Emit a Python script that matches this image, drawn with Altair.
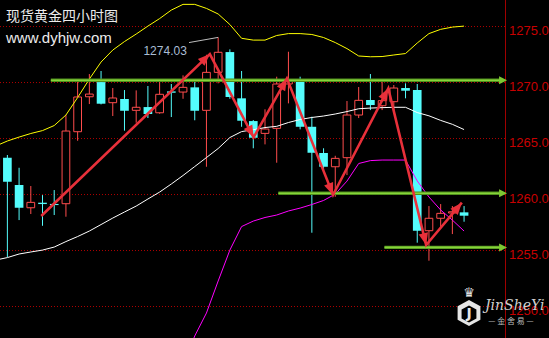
import math
import altair as alt
import pandas as pd

# ---------------- data ----------------
idx = list(range(-1, 40))
opens = [1261.74, 1263.29, 1260.85, 1258.82, 1259.27, 1259.15, 1259.18, 1265.61, 1268.73, 1270.04,
         1268.20, 1268.53, 1267.52, 1267.81, 1267.30, 1269.21, 1269.15, 1269.57, 1267.52, 1270.91,
         1272.72, 1268.59, 1266.56, 1265.46, 1265.91, 1269.87, 1270.16, 1266.05, 1263.71, 1262.48,
         1263.29, 1267.10, 1268.44, 1267.93, 1268.29, 1269.51, 1269.33, 1256.77, 1257.88, 1258.35,
         1258.41]
highs = [1263.30, 1263.53, 1262.39, 1260.76, 1259.95, 1260.40, 1267.10, 1270.31, 1270.76, 1271.03,
         1269.51, 1269.33, 1269.30, 1269.69, 1270.13, 1269.87, 1270.64, 1270.29, 1272.48, 1274.03,
         1272.96, 1271.03, 1266.65, 1267.61, 1270.52, 1272.75, 1270.52, 1266.95, 1264.13, 1263.46,
         1268.35, 1269.60, 1270.76, 1270.07, 1269.78, 1269.93, 1269.87, 1258.97, 1259.15, 1258.97,
         1258.97]
lows = [1261.70, 1254.42, 1257.72, 1258.26, 1257.21, 1258.17, 1258.02, 1264.80, 1268.08, 1268.05,
        1267.01, 1265.70, 1266.41, 1266.83, 1267.21, 1266.92, 1268.55, 1266.63, 1262.48, 1269.93,
        1268.55, 1266.05, 1264.13, 1264.48, 1262.84, 1268.14, 1265.82, 1256.59, 1262.19, 1259.80,
        1261.74, 1266.83, 1267.54, 1267.54, 1267.54, 1268.59, 1255.70, 1254.09, 1257.12, 1256.47,
        1257.57]
closes = [1263.26, 1261.14, 1258.82, 1259.30, 1259.15, 1259.06, 1265.67, 1268.71, 1268.97, 1268.11,
          1268.62, 1267.48, 1267.79, 1267.19, 1268.95, 1269.09, 1269.57, 1267.48, 1270.91, 1272.70,
          1268.71, 1266.59, 1265.07, 1265.85, 1269.87, 1270.16, 1266.05, 1263.73, 1262.48, 1263.23,
          1267.10, 1268.41, 1267.99, 1268.38, 1269.51, 1269.27, 1256.77, 1257.88, 1258.32, 1258.46,
          1258.11]

band_idx = list(range(-1, 40))
upper = [1264.33, 1264.78, 1265.13, 1265.45, 1265.71, 1266.16, 1267.10, 1268.66, 1270.31, 1271.83,
         1272.90, 1273.66, 1274.33, 1275.04, 1275.71, 1276.47, 1276.98, 1276.98, 1276.62, 1276.12,
         1275.18, 1273.95, 1273.79, 1273.79, 1274.20, 1274.37, 1274.37, 1274.29, 1274.02, 1273.57,
         1273.03, 1272.37, 1272.30, 1272.32, 1272.46, 1272.59, 1273.53, 1274.37, 1274.75, 1274.95,
         1275.04]
middle = [1254.15, 1254.37, 1254.69, 1254.87, 1255.04, 1255.31, 1255.80, 1256.25, 1256.74, 1257.32,
          1257.90, 1258.44, 1258.97, 1259.60, 1260.22, 1260.94, 1261.70, 1262.50, 1263.30, 1264.11,
          1265.09, 1265.62, 1265.79, 1265.98, 1266.09, 1266.43, 1266.70, 1266.88, 1267.01, 1267.19,
          1267.41, 1267.66, 1267.72, 1267.76, 1267.79, 1267.79, 1267.32, 1267.03, 1266.62, 1266.27,
          1265.80]
lower_idx = list(range(15, 40))
lower = [1244.78, 1247.37, 1249.42, 1252.28, 1255.04, 1257.14, 1257.63, 1257.95, 1258.17, 1258.53,
         1258.79, 1259.11, 1259.47, 1260.04, 1261.20, 1262.77, 1263.03, 1263.08, 1263.08, 1263.08,
         1261.21, 1259.78, 1258.62, 1257.72, 1256.74]

zig_x = [2.89, 17.29, 21.03, 23.87, 27.81, 32.53, 35.76, 38.81]
zig_y = [1258.08, 1272.54, 1265.11, 1270.37, 1259.96, 1269.48, 1255.49, 1259.27]

level_prices = [1270.20, 1260.11, 1255.28]
level_start = [3.71, 23.14, 32.20]
level_end = 42.67

y_ticks = [1250, 1255, 1260, 1265, 1270, 1275]
y_tick_labels = ["1250.0", "1255.0", "1260.0", "1265.0", "1270.0", "1275.0"]
peak_label = "1274.03"
peak_idx = 18
title_cn = "现货黄金四小时图"
site = "www.dyhjw.com"

# ---------------- layout ----------------
W, H = 506, 338
x_dom = [-0.63, 42.58]
y_dom = [1247.19, 1277.37]
px_x = W / (x_dom[1] - x_dom[0])
px_y = H / (y_dom[1] - y_dom[0])

xs = alt.Scale(domain=x_dom, nice=False, zero=False)
ys = alt.Scale(domain=y_dom, nice=False, zero=False)

RED = "#ff4d4d"
CYAN = "#54fcfc"

candles = pd.DataFrame({"i": idx, "o": opens, "h": highs, "l": lows, "c": closes})
candles["up"] = candles["c"] >= candles["o"]

# price grid, labels and axis line
ticks = pd.DataFrame({"p": y_ticks, "t": y_tick_labels})
grid = alt.Chart(ticks).mark_rule(color="#b00000", strokeWidth=1, strokeDash=[1, 2]).encode(
    x=alt.value(0), x2=alt.value(W), y=alt.Y("p:Q", scale=ys, axis=None))
tick_txt = alt.Chart(ticks).mark_text(align="left", baseline="top", dx=3, dy=-2,
                                      color="#c80000", font="Liberation Sans",
                                      fontSize=13).encode(
    x=alt.value(W), y=alt.Y("p:Q", scale=ys, axis=None), text="t:N")
axis_line = alt.Chart(ticks).mark_rule(color="#a00000", strokeWidth=1).encode(
    x=alt.value(W - 0.5), y=alt.value(0), y2=alt.value(H))

base = alt.Chart(candles)
up_c = base.transform_filter("datum.up")
dn_c = base.transform_filter("!datum.up")

wick_up = up_c.mark_rule(color=RED, strokeWidth=1, clip=True).encode(
    x=alt.X("i:Q", scale=xs, axis=None), y=alt.Y("l:Q", scale=ys, axis=None), y2="h:Q")
wick_dn = dn_c.mark_rule(color=CYAN, strokeWidth=1, clip=True).encode(
    x=alt.X("i:Q", scale=xs, axis=None), y=alt.Y("l:Q", scale=ys, axis=None), y2="h:Q")

body_up = up_c.transform_calculate(xl="datum.i - 0.33", xr="datum.i + 0.33").mark_rect(
    fill="#000000", stroke=RED, strokeWidth=1, clip=True).encode(
    x=alt.X("xl:Q", scale=xs, axis=None), x2="xr:Q",
    y=alt.Y("o:Q", scale=ys, axis=None), y2="c:Q")
body_dn = dn_c.transform_calculate(xl="datum.i - 0.37", xr="datum.i + 0.37",
                                   yb="max(datum.o - datum.c, 0.1) + datum.c").mark_rect(
    fill=CYAN, clip=True).encode(
    x=alt.X("xl:Q", scale=xs, axis=None), x2="xr:Q",
    y=alt.Y("yb:Q", scale=ys, axis=None), y2="c:Q")

bands = pd.DataFrame({"i": band_idx, "u": upper, "m": middle})
low_df = pd.DataFrame({"i": lower_idx, "v": lower})
up_line = alt.Chart(bands).mark_line(color="#ffff00", strokeWidth=1, clip=True).encode(
    x=alt.X("i:Q", scale=xs, axis=None), y=alt.Y("u:Q", scale=ys, axis=None))
mid_line = alt.Chart(bands).mark_line(color="#ffffff", strokeWidth=1, clip=True).encode(
    x=alt.X("i:Q", scale=xs, axis=None), y=alt.Y("m:Q", scale=ys, axis=None))
low_line = alt.Chart(low_df).mark_line(color="#ff00ff", strokeWidth=1, clip=True).encode(
    x=alt.X("i:Q", scale=xs, axis=None), y=alt.Y("v:Q", scale=ys, axis=None))

# green horizontal level arrows
lv = pd.DataFrame({"x0": level_start, "x1": [level_end - 0.6] * 3, "xt": [level_end] * 3,
                   "p": level_prices})
lv_line_o = alt.Chart(lv).mark_rule(color="#4f8f1c", strokeWidth=3.4).encode(
    x=alt.X("x0:Q", scale=xs, axis=None), x2="x1:Q", y=alt.Y("p:Q", scale=ys, axis=None))
lv_line_i = alt.Chart(lv).mark_rule(color="#86d43a", strokeWidth=1.6).encode(
    x=alt.X("x0:Q", scale=xs, axis=None), x2="x1:Q", y=alt.Y("p:Q", scale=ys, axis=None))
lv_head = alt.Chart(lv).mark_point(shape="M0,0 L-2,-1 L-2,1 Z", filled=True, size=64,
                                   color="#7cc832", opacity=1).encode(
    x=alt.X("xt:Q", scale=xs, axis=None), y=alt.Y("p:Q", scale=ys, axis=None))

# red zig-zag arrows
zz = pd.DataFrame({"x": zig_x, "y": zig_y, "k": list(range(len(zig_x)))})
angs = []
for k in range(1, len(zig_x)):
    dx = (zig_x[k] - zig_x[k - 1]) * px_x
    dy = -(zig_y[k] - zig_y[k - 1]) * px_y
    angs.append(math.degrees(math.atan2(dx, -dy)) % 360)
heads = pd.DataFrame({"x": zig_x[1:], "y": zig_y[1:], "a": angs})
zz_line = alt.Chart(zz).mark_line(color="#e8303a", strokeWidth=2.6, strokeCap="butt").encode(
    x=alt.X("x:Q", scale=xs, axis=None), y=alt.Y("y:Q", scale=ys, axis=None), order="k:Q")
zz_head = alt.Chart(heads).mark_point(shape="M0,0 L-0.8,2 L0.8,2 Z", filled=True, size=144,
                                      color="#e8303a", opacity=1).encode(
    x=alt.X("x:Q", scale=xs, axis=None), y=alt.Y("y:Q", scale=ys, axis=None),
    angle=alt.Angle("a:Q", scale=None))

# peak annotation
pk = pd.DataFrame({"t": [peak_label], "x": [11.62], "lx": [15.51], "lx2": [peak_idx],
                   "ly": [1273.57], "ly2": [highs[peak_idx + 1]], "ty": [1272.86]})
pk_rule = alt.Chart(pk).mark_rule(color="#bdbdbd", strokeWidth=1).encode(
    x=alt.X("lx:Q", scale=xs, axis=None), x2="lx2:Q",
    y=alt.Y("ly:Q", scale=ys, axis=None), y2="ly2:Q")
pk_text = alt.Chart(pk).mark_text(align="left", baseline="middle", color="#a9bdd4",
                                  font="Liberation Sans", fontSize=12).encode(
    x=alt.X("x:Q", scale=xs, axis=None), y=alt.Y("ty:Q", scale=ys, axis=None), text="t:N")

# titles
tdf = pd.DataFrame({"t": [title_cn]})
sdf = pd.DataFrame({"t": [site]})
title_txt = alt.Chart(tdf).mark_text(align="left", baseline="middle", color="#ececec",
                                     font="Noto Sans CJK SC", fontSize=14).encode(
    text="t:N", x=alt.value(6), y=alt.value(17))
site_txt = alt.Chart(sdf).mark_text(align="left", baseline="middle", color="#ececec",
                                    font="Liberation Sans", fontSize=15).encode(
    text="t:N", x=alt.value(6), y=alt.value(38))

# watermark logo
logo_df = pd.DataFrame({"a": ["JinSheYi"], "b": ["— 金 舍 易 —"], "c": ["♛"], "d": ["J"]})
hexa = "M0,-1.15 L1,-0.6 L1,0.6 L0,1.15 L-1,0.6 L-1,-0.6 Z"
logo_shield = alt.Chart(logo_df).mark_point(shape=hexa, filled=True, size=520,
                                            color="#e6e6e6", opacity=1).encode(
    x=alt.value(469), y=alt.value(313))
logo_inner = alt.Chart(logo_df).mark_point(shape=hexa, filled=True, size=220,
                                           color="#000000", opacity=1).encode(
    x=alt.value(469), y=alt.value(314))
logo_j = alt.Chart(logo_df).mark_text(color="#e6e6e6", font="DejaVu Sans", fontSize=14,
                                      fontWeight="bold", baseline="middle").encode(
    text="d:N", x=alt.value(469), y=alt.value(314))
logo_crown = alt.Chart(logo_df).mark_text(color="#e6e6e6", font="DejaVu Sans", fontSize=13,
                                          baseline="middle").encode(
    text="c:N", x=alt.value(469), y=alt.value(293))
logo_name = alt.Chart(logo_df).mark_text(color="#d0d0d0", font="DejaVu Serif", fontSize=14,
                                         fontStyle="italic", align="left",
                                         baseline="middle").encode(
    text="a:N", x=alt.value(485), y=alt.value(306))
logo_cn = alt.Chart(logo_df).mark_text(color="#bdbdbd", font="Noto Sans CJK SC", fontSize=8,
                                       align="center", baseline="middle").encode(
    text="b:N", x=alt.value(511), y=alt.value(322))

chart = alt.layer(
    grid, axis_line, tick_txt,
    wick_up, wick_dn, body_up, body_dn,
    up_line, mid_line, low_line,
    lv_line_o, lv_line_i, lv_head,
    zz_line, zz_head,
    pk_rule, pk_text, title_txt, site_txt,
    logo_shield, logo_inner, logo_j, logo_crown, logo_name, logo_cn,
).properties(
    width=W, height=H, background="#000000",
    padding={"left": 0, "top": 0, "right": 43, "bottom": 0},
    autosize=alt.AutoSizeParams(type="none"),
).configure_view(stroke=None)

chart.save("out.html", embed_options={"renderer": "svg", "actions": False})
